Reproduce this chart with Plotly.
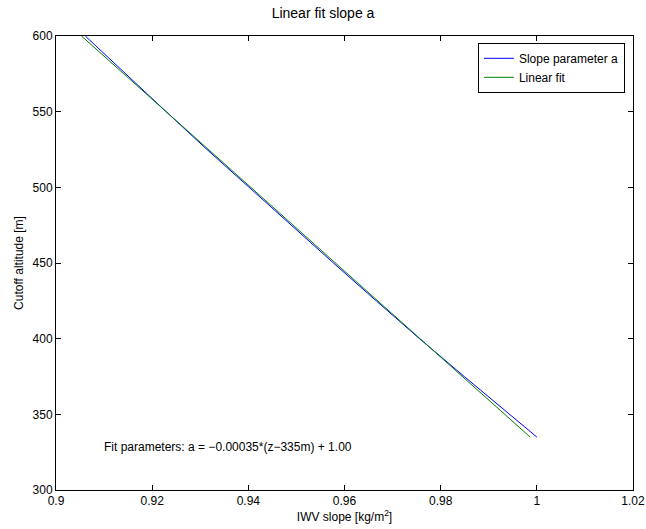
import plotly.graph_objects as go

# cutoff altitude [m] and slope parameter a
altitude = [600, 575, 550, 525, 500, 475, 450, 425, 400, 375, 350, 335]
slope_a = [0.9061, 0.9144, 0.9229, 0.9314, 0.9401, 0.9489, 0.9577, 0.9666, 0.9756, 0.9849, 0.9943, 1.0000]

# linear fit end points
fit_altitude = [600, 335]
fit_a = [0.9053, 0.9986]

x_ticks = [0.9, 0.92, 0.94, 0.96, 0.98, 1.0, 1.02]
x_labels = ["0.9", "0.92", "0.94", "0.96", "0.98", "1", "1.02"]
y_ticks = [300, 350, 400, 450, 500, 550, 600]

fig = go.Figure()
fig.add_trace(go.Scatter(x=slope_a, y=altitude, mode="lines", name="Slope parameter a",
                         line=dict(color="#0000ff", width=1)))
fig.add_trace(go.Scatter(x=fit_a, y=fit_altitude, mode="lines", name="Linear fit",
                         line=dict(color="#008000", width=1)))

fig.add_annotation(x=0.9095, y=328.6, xref="x", yref="y", xanchor="left", yanchor="middle",
                   text="Fit parameters: a = \u22120.00035*(z\u2212335m) + 1.00",
                   showarrow=False, font=dict(size=12, color="black"))

axis_style = dict(showline=True, linecolor="black", linewidth=1, mirror="ticks",
                  ticks="inside", ticklen=5, tickcolor="black", showgrid=False,
                  zeroline=False, automargin=False, tickfont=dict(size=12, color="black"))

fig.update_xaxes(range=[0.9, 1.02], tickvals=x_ticks, ticktext=x_labels,
                 title=dict(text="IWV slope [kg/m<sup>2</sup>]", font=dict(size=12, color="black"), standoff=2),
                 **axis_style)
fig.update_yaxes(range=[300, 600], tickvals=y_ticks,
                 title=dict(text="Cutoff altitude [m]", font=dict(size=12, color="black"), standoff=6),
                 **axis_style)

fig.update_layout(
    width=646, height=529,
    margin=dict(l=56, r=13, t=36, b=39, autoexpand=False),
    paper_bgcolor="white", plot_bgcolor="white",
    font=dict(family="Liberation Sans, Arial, sans-serif", color="black"),
    title=dict(text="Linear fit slope a", x=0.5, xanchor="center", y=0.985, yanchor="top",
               font=dict(size=14, color="black")),
    legend=dict(x=0.986, y=0.985, xanchor="right", yanchor="top", bgcolor="white",
                bordercolor="black", borderwidth=1, font=dict(size=12, color="black"),
                tracegroupgap=0, itemwidth=30),
    showlegend=True,
)

# drop the browser's default page margin so the figure sits at the window corner
fig.write_html("out.html", config={"displayModeBar": False},
               post_script="document.body.style.margin='0';")
